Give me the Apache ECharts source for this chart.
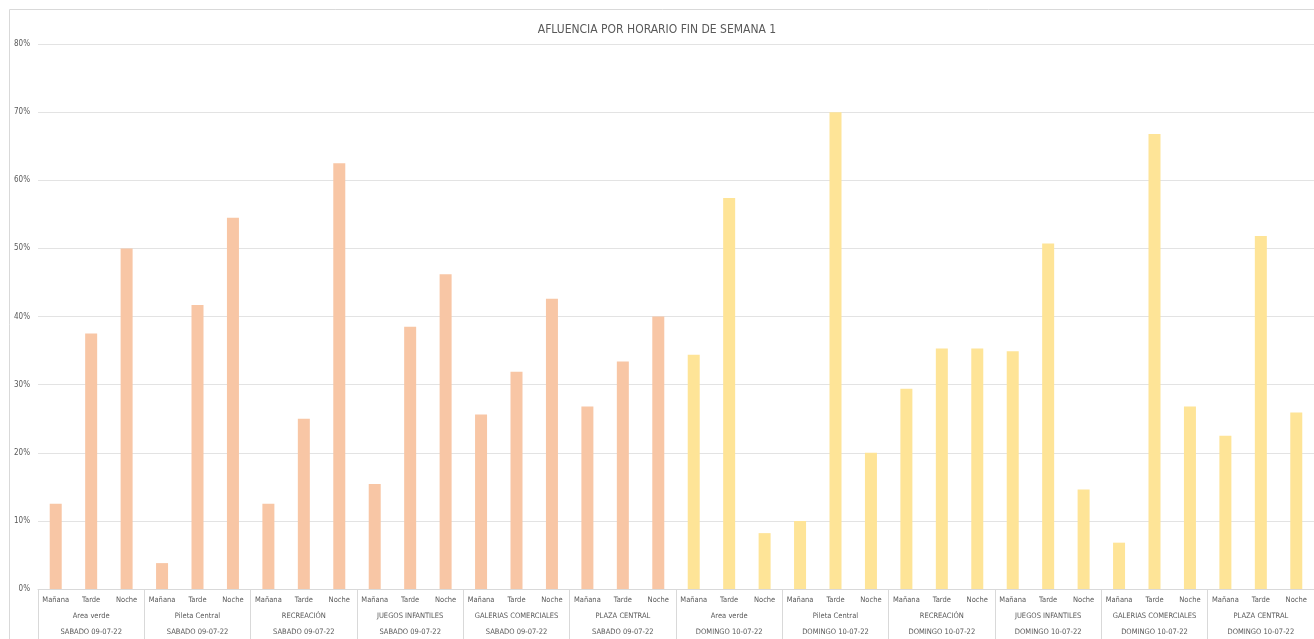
<!DOCTYPE html>
<html>
<head>
<meta charset="utf-8">
<script src="https://cdn.jsdelivr.net/npm/echarts@6/dist/echarts.min.js"></script>
<style>html,body{margin:0;padding:0;background:#fff}#c{width:1314px;height:639px}</style>
</head>
<body>
<div id="c"></div>
<script>
const titleText = 'AFLUENCIA POR HORARIO FIN DE SEMANA 1';
const horarios = ['Mañana', 'Tarde', 'Noche'];
const lugares = ['Area verde', 'Pileta Central', 'RECREACIÓN', 'JUEGOS INFANTILES', 'GALERIAS COMERCIALES', 'PLAZA CENTRAL'];
const dias = ['SABADO 09-07-22', 'DOMINGO 10-07-22'];
const sabado = [12.5, 37.5, 50, 3.8, 41.7, 54.5, 12.5, 25, 62.5, 15.4, 38.5, 46.2, 25.6, 31.9, 42.6, 26.8, 33.4, 40];
const domingo = [34.4, 57.4, 8.2, 10, 70, 20, 29.4, 35.3, 35.3, 34.9, 50.7, 14.6, 6.8, 66.8, 26.8, 22.5, 51.8, 25.9];
const yTicks = [0, 10, 20, 30, 40, 50, 60, 70, 80];
const colors = ['#F8C6A5', '#FEE497'];

const level1 = [], level2 = [], level3 = [], barData = [];
[sabado, domingo].forEach((vals, d) => {
  lugares.forEach((l, li) => {
    level2.push(l);
    level3.push(dias[d]);
    horarios.forEach((h, hi) => {
      level1.push(h);
      barData.push({ value: vals[li * 3 + hi], itemStyle: { color: colors[d] } });
    });
  });
});

const txt = '#595959';
const font = '"Liberation Sans Narrow", "DejaVu Sans Condensed", "Liberation Sans", sans-serif';
const chart = echarts.init(document.getElementById('c'));
chart.setOption({
  animation: false,
  title: { text: titleText, left: 'center', top: 19, textStyle: { fontFamily: font, fontSize: 12, fontWeight: 'normal', color: txt } },
  graphic: [{ type: 'rect', shape: { x: 9.5, y: 9.5, width: 1400, height: 700 }, style: { fill: 'none', stroke: '#d9d9d9', lineWidth: 1 }, silent: true }],
  grid: { left: 38, right: -5, top: 44, bottom: 50 },
  xAxis: [
    { type: 'category', data: level1, position: 'bottom',
      axisLine: { lineStyle: { color: '#d9d9d9' } }, axisTick: { show: false },
      axisLabel: { interval: 0, margin: 7, fontSize: 7.5, fontFamily: font, color: txt } },
    { type: 'category', data: level2, position: 'bottom', gridIndex: 0,
      axisLine: { show: false }, axisTick: { show: true, length: 50, lineStyle: { color: '#d9d9d9' } },
      axisLabel: { interval: 0, margin: 23, fontSize: 7.5, fontFamily: font, color: txt } },
    { type: 'category', data: level3, position: 'bottom', gridIndex: 0,
      axisLine: { show: false }, axisTick: { show: false },
      axisLabel: { interval: 0, margin: 39, fontSize: 7.5, fontFamily: font, color: txt } }
  ],
  yAxis: { type: 'value', min: yTicks[0], max: yTicks[yTicks.length - 1], interval: 10,
    axisLine: { show: false }, axisTick: { show: false },
    splitLine: { lineStyle: { color: '#e3e3e3' } },
    axisLabel: { margin: 8, fontSize: 8, fontFamily: font, color: txt, formatter: v => v + '%' } },
  series: [{ type: 'bar', xAxisIndex: 0, data: barData, barWidth: 12 }]
});
</script>
</body>
</html>
